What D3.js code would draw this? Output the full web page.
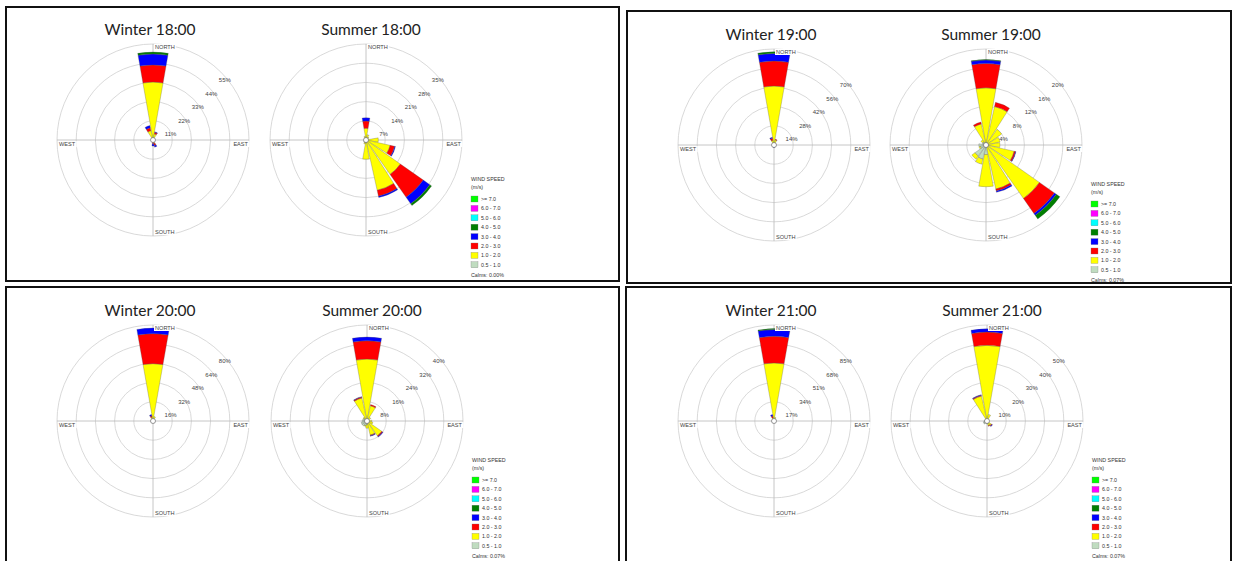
<!DOCTYPE html>
<html>
<head>
<meta charset="utf-8"/>
<title>Wind roses - winter / summer, 18:00 to 21:00</title>
<script src="https://d3js.org/d3.v7.min.js"></script>
<style>
  body { margin: 0; background: #fff; }
  .panel { fill: none; stroke: #111; stroke-width: 2; }
  .grid { fill: none; stroke: #cfcfcf; stroke-width: 0.8; }
  .cross { stroke: #b8b8b8; stroke-width: 0.8; }
  .petal { stroke: #555; stroke-width: 0.3; }
  .compass { font-family: "Liberation Sans", Arial, sans-serif; font-size: 5.6px; fill: #444; }
  .ring { font-family: "Liberation Sans", Arial, sans-serif; font-size: 6px; fill: #444; }
  .legend text { font-family: "Liberation Sans", Arial, sans-serif; font-size: 5.3px; fill: #333; }
  .title { font-family: Lato, "Open Sans", sans-serif; font-size: 15.5px; fill: #222; }
</style>
</head>
<body>
<svg width="1234" height="561"></svg>
<script>
// compass sectors, clockwise from north
var directions = ["N","NNE","NE","ENE","E","ESE","SE","SSE","S","SSW","SW","WSW","W","WNW","NW","NNW"];
// wind speed classes (m/s), slowest first
var speedBins = ["0.5 - 1.0","1.0 - 2.0","2.0 - 3.0","3.0 - 4.0","4.0 - 5.0","5.0 - 6.0","6.0 - 7.0",">= 7.0"];
var binColors = ["#c0dcc0","#ffff00","#ff0000","#0000ff","#007f00","#00ffff","#ff00ff","#00ff00"];

// frequency (%) per sector, one value per speed class (slowest first)
var winter18 = {
  N:   [0.6, 32.6, 9.8, 6.3, 1.1],
  NNE: [0.3, 3.2, 1.0, 0.3],
  SSE: [0.3, 1.7, 1.2, 1.0],
  S:   [0.2, 0.8, 1.2, 1.3],
  NNW: [0.3, 5.2, 1.7, 1.3]
};
var summer18 = {
  N:   [0.8, 3.5, 2.6, 1.2],
  NNE: [0.5, 1.5],
  NE:  [0.3, 1.0],
  E:   [0.5, 4.0],
  ESE: [0.5, 8.5, 1.7, 0.3],
  SE:  [0.5, 14.8, 10.2, 2.9, 0.8],
  SSE: [0.5, 18.3, 2.2, 0.5],
  S:   [1.0, 6.0],
  SSW: [1.0, 0.5],
  SW:  [0.8, 0.2],
  WSW: [0.6],
  W:   [0.5],
  NNW: [0.4, 1.0]
};
var winter19 = {
  N:   [0.5, 42.5, 18.2, 5.6, 1.2],
  NNE: [0.3, 3.5, 0.5],
  S:   [0.2, 0.6, 0.6, 0.6],
  NNW: [0.3, 3.2, 1.5, 0.8]
};
var summer19 = {
  N:   [0.5, 11.4, 5.1, 0.7, 0.1],
  NNE: [0.4, 7.8, 0.9],
  NE:  [0.4, 3.6],
  ENE: [0.4, 2.6],
  E:   [0.4, 2.5],
  ESE: [0.4, 5.6, 0.3, 0.1],
  SE:  [0.5, 13.1, 3.8, 0.5, 0.9],
  SSE: [0.5, 8.9, 0.4, 0.3],
  S:   [2.0, 6.7],
  SSW: [3.0, 1.1],
  SW:  [2.8, 0.8],
  WSW: [1.2, 0.3],
  W:   [1.5],
  WNW: [0.8],
  NW:  [0.8, 0.5],
  NNW: [0.5, 4.0, 0.4]
};
var winter20 = {
  N:   [0.5, 47.3, 25.0, 4.7],
  NNE: [0.3, 3.5],
  NNW: [0.3, 3.0, 1.2, 1.0]
};
var summer20 = {
  N:   [0.5, 25.3, 7.6, 1.6],
  NNE: [0.5, 6.0, 0.5],
  NE:  [0.4, 1.5],
  E:   [0.5, 1.5],
  ESE: [0.5, 2.0],
  SE:  [0.5, 7.0, 0.4, 0.3],
  SSE: [0.5, 5.5, 0.3, 0.2],
  S:   [1.5, 1.5],
  SSW: [2.0, 0.3],
  SW:  [2.5],
  WSW: [2.5],
  W:   [2.0],
  WNW: [1.8],
  NW:  [1.5, 0.5],
  NNW: [0.5, 9.3, 0.4, 0.2]
};
var winter21 = {
  N:   [0.5, 50.9, 23.6, 6.0, 0.8],
  NNE: [0.3, 3.0],
  NNW: [0.3, 2.7, 1.5, 1.3]
};
var summer21 = {
  N:   [0.5, 38.9, 6.9, 1.7],
  NNE: [0.5, 3.0],
  SE:  [0.5, 2.3, 0.4, 0.3],
  SSE: [0.5, 2.0, 0.3],
  S:   [1.5],
  SW:  [2.0],
  WSW: [2.0],
  W:   [1.5],
  NW:  [1.0],
  NNW: [0.5, 12.8, 0.5, 0.2]
};

// ring labels (%) of each rose
var winter18Rings = [11, 22, 33, 44, 55];
var summer18Rings = [7, 14, 21, 28, 35];
var winter19Rings = [14, 28, 42, 56, 70];
var summer19Rings = [4, 8, 12, 16, 20];
var winter20Rings = [16, 32, 48, 64, 80];
var summer20Rings = [8, 16, 24, 32, 40];
var winter21Rings = [17, 34, 51, 68, 85];
var summer21Rings = [10, 20, 30, 40, 50];

var hours = ["18:00", "19:00", "20:00", "21:00"];
var calms = ["0.00%", "0.07%", "0.07%", "0.07%"];

// page layout of the four framed panels
var panels = [
  {box: [6, 7, 613, 274],   cy: 140, wx: 153, sx: 366, w: winter18, s: summer18, wr: winter18Rings, sr: summer18Rings},
  {box: [627, 11, 604, 272], cy: 145, wx: 774, sx: 986, w: winter19, s: summer19, wr: winter19Rings, sr: summer19Rings},
  {box: [6, 287, 613, 285],  cy: 421, wx: 153, sx: 367, w: winter20, s: summer20, wr: winter20Rings, sr: summer20Rings},
  {box: [626, 287, 605, 285], cy: 421, wx: 774, sx: 987, w: winter21, s: summer21, wr: winter21Rings, sr: summer21Rings}
];

var R = 96;           // outer ring radius
var halfWidth = 10;   // petal half width, degrees
var svg = d3.select("svg");
svg.append("rect").attr("width", 1234).attr("height", 561).attr("fill", "#fff");

function drawRose(g, data, rings) {
  var r = d3.scaleLinear().domain([0, rings[rings.length - 1]]).range([0, R]);

  g.selectAll("circle.grid").data(rings).join("circle")
    .attr("class", "grid").attr("r", function(d) { return r(d); });
  g.append("line").attr("class", "cross").attr("x1", -R).attr("x2", R);
  g.append("line").attr("class", "cross").attr("y1", -R).attr("y2", R);

  // stack the speed classes of every sector
  var segs = [];
  directions.forEach(function(dir, i) {
    var cum = 0;
    (data[dir] || []).forEach(function(v, b) {
      if (!v) return;
      segs.push({dir: i, bin: b, r0: cum, r1: cum + v});
      cum += v;
    });
  });
  var rad = Math.PI / 180;
  var arc = d3.arc()
    .innerRadius(function(d) { return r(d.r0); })
    .outerRadius(function(d) { return r(d.r1); })
    .startAngle(function(d) { return (d.dir * 22.5 - halfWidth) * rad; })
    .endAngle(function(d) { return (d.dir * 22.5 + halfWidth) * rad; });
  g.selectAll("path.petal").data(segs).join("path")
    .attr("class", "petal")
    .attr("d", arc)
    .attr("fill", function(d) { return binColors[d.bin]; });

  // calms circle
  g.append("circle").attr("r", 2.5).attr("fill", "#fff").attr("stroke", "#555").attr("stroke-width", 0.6);

  // ring labels, just below the 45 degree point of each ring
  g.selectAll("text.ring").data(rings).join("text")
    .attr("class", "ring")
    .attr("x", function(d) { return r(d) * Math.SQRT1_2 + 4; })
    .attr("y", function(d) { return -r(d) * Math.SQRT1_2 + 8; })
    .attr("text-anchor", "middle")
    .attr("dominant-baseline", "central")
    .text(function(d) { return d + "%"; });

  // compass labels on white boxes
  var compass = [
    {t: "NORTH", x: 2, y: -R + 3, a: "start"},
    {t: "SOUTH", x: 2, y: R - 4, a: "start"},
    {t: "WEST", x: -R + 2, y: 4, a: "start"},
    {t: "EAST", x: R - 1, y: 4, a: "end"}
  ];
  compass.forEach(function(c) {
    var bg = g.append("rect").attr("fill", "#fff");
    var txt = g.append("text").attr("class", "compass")
      .attr("x", c.x).attr("y", c.y)
      .attr("text-anchor", c.a)
      .attr("dominant-baseline", "central")
      .text(c.t);
    var bb = txt.node().getBBox();
    bg.attr("x", bb.x - 1).attr("y", bb.y).attr("width", bb.width + 2).attr("height", bb.height);
  });
}

function drawLegend(g, calmsText) {
  g.attr("class", "legend");
  g.append("text").attr("y", 0).attr("dominant-baseline", "central").text("WIND SPEED");
  g.append("text").attr("y", 8).attr("dominant-baseline", "central").text("(m/s)");
  var rows = speedBins.map(function(b, i) { return i; }).reverse();
  var row = g.selectAll("g.row").data(rows).join("g")
    .attr("class", "row")
    .attr("transform", function(d, i) { return "translate(0," + (20 + i * 9.4) + ")"; });
  row.append("rect").attr("x", 0).attr("y", -3).attr("width", 7).attr("height", 6)
    .attr("fill", function(d) { return binColors[d]; })
    .attr("stroke", "#777").attr("stroke-width", 0.3);
  row.append("text").attr("x", 10).attr("dominant-baseline", "central")
    .text(function(d) { return speedBins[d]; });
  g.append("text").attr("y", 96).attr("dominant-baseline", "central").text("Calms: " + calmsText);
}

panels.forEach(function(p, k) {
  svg.append("rect").attr("class", "panel")
    .attr("x", p.box[0]).attr("y", p.box[1]).attr("width", p.box[2]).attr("height", p.box[3]);

  var gw = svg.append("g").attr("transform", "translate(" + p.wx + "," + p.cy + ")");
  drawRose(gw, p.w, p.wr);
  var gs = svg.append("g").attr("transform", "translate(" + p.sx + "," + p.cy + ")");
  drawRose(gs, p.s, p.sr);

  svg.append("text").attr("class", "title")
    .attr("x", p.wx - 3).attr("y", p.cy - 105).attr("text-anchor", "middle")
    .text("Winter " + hours[k]);
  svg.append("text").attr("class", "title")
    .attr("x", p.sx + 5).attr("y", p.cy - 105).attr("text-anchor", "middle")
    .text("Summer " + hours[k]);

  drawLegend(svg.append("g").attr("transform", "translate(" + (p.sx + 105) + "," + (p.cy + 39) + ")"), calms[k]);
});
</script>
</body>
</html>
